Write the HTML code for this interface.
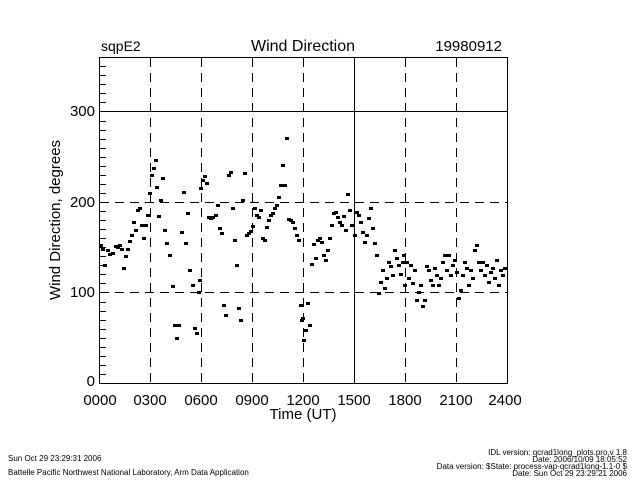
<!DOCTYPE html>
<html><head><meta charset="utf-8"><style>
html,body{margin:0;padding:0;background:#fff;}
svg{display:block;}
text{font-family:"Liberation Sans",sans-serif;fill:#000;}
</style></head><body>
<svg width="640" height="480" viewBox="0 0 640 480" xmlns="http://www.w3.org/2000/svg">
<rect width="640" height="480" fill="#fff"/>
<text x="101" y="51" font-size="14">sqpE2</text>
<text x="303" y="51" font-size="16" text-anchor="middle">Wind Direction</text>
<text x="502" y="51" font-size="15" text-anchor="end">19980912</text>
<g stroke="#000" stroke-width="1" fill="none">
<rect x="99.5" y="57.5" width="408" height="326"/>
<g stroke-dasharray="9,6">
<line x1="150.5" y1="58" x2="150.5" y2="383"/>
<line x1="201.5" y1="58" x2="201.5" y2="383"/>
<line x1="252.5" y1="58" x2="252.5" y2="383"/>
<line x1="303.5" y1="58" x2="303.5" y2="383"/>
<line x1="405.5" y1="58" x2="405.5" y2="383"/>
<line x1="456.5" y1="58" x2="456.5" y2="383"/>
<line x1="100" y1="292.5" x2="507" y2="292.5"/>
<line x1="100" y1="202.5" x2="507" y2="202.5"/>
</g>
<line x1="354.5" y1="58" x2="354.5" y2="383"/>
<line x1="100" y1="111.5" x2="507" y2="111.5"/>
<path d="M100 374.5h6M100 365.5h6M100 356.5h6M100 347.5h6M100 338.5h6M100 329.5h6M100 320.5h6M100 311.5h6M100 302.5h6M100 283.5h6M100 274.5h6M100 265.5h6M100 256.5h6M100 247.5h6M100 238.5h6M100 229.5h6M100 220.5h6M100 211.5h6M100 193.5h6M100 184.5h6M100 175.5h6M100 166.5h6M100 157.5h6M100 148.5h6M100 139.5h6M100 130.5h6M100 121.5h6M100 102.5h6M100 93.5h6M100 84.5h6M100 75.5h6M100 66.5h6"/>
</g>
<g font-size="15" text-anchor="end">
<text x="95" y="386">0</text>
<text x="95" y="297">100</text>
<text x="95" y="207">200</text>
<text x="95" y="116">300</text>
</g>
<g font-size="15" text-anchor="middle">
<text x="100" y="405">0000</text>
<text x="150" y="405">0300</text>
<text x="201" y="405">0600</text>
<text x="252" y="405">0900</text>
<text x="303" y="405">1200</text>
<text x="354" y="405">1500</text>
<text x="405" y="405">1800</text>
<text x="456" y="405">2100</text>
<text x="505" y="405">2400</text>
</g>
<text x="303" y="419" font-size="15" text-anchor="middle">Time (UT)</text>
<text transform="translate(60,220) rotate(-90)" font-size="15" text-anchor="middle">Wind Direction, degrees</text>
<g id="pts" fill="#000"></g>
<g font-size="8">
<text x="8" y="461">Sun Oct 29 23:29:31 2006</text>
<text x="8" y="475">Battelle Pacific Northwest National Laboratory, Arm Data Application</text>
<text x="627" y="455" text-anchor="end">IDL version: qcrad1long_plots.pro,v 1.8</text>
<text x="627" y="462" text-anchor="end">Date: 2006/10/09 18:05:52</text>
<text x="627" y="469" text-anchor="end">Data version: $State: process-vap-qcrad1long-1.1-0 $</text>
<text x="627" y="476" text-anchor="end">Date: Sun Oct 29 23:29:21 2006</text>
</g>
</svg>
<script>
var p=[[101,245],[103,249],[105,265],[108,250],[110,254],[113,253],[116,246],[118,247],[120,245],[122,249],[124,268],[126,256],[128,249],[130,241],[132,235],[134,222],[136,230],[138,210],[140,208],[142,225],[144,238],[146,225],[148,215],[150,193],
[152,175],[154,168],[156,160],[157,187],[159,216],[161,200],[163,178],[165,230],[167,243],[170,255],[173,286],[175,325],[177,338],[179,325],[182,232],[184,192],[186,243],[188,213],[190,270],[193,285],[195,328],[197,333],[199,292],[200,280],
[201,188],[203,180],[205,176],[207,183],[209,217],[211,218],[213,217],[216,215],[218,205],[220,228],[222,233],[224,305],[226,315],[229,175],[231,172],[233,208],[235,240],[237,265],[239,308],[241,320],[243,200],[245,173],[247,235],[249,233],[251,231],
[253,226],[255,208],[257,215],[259,217],[261,210],[263,238],[265,240],[267,227],[269,220],[271,215],[273,213],[275,208],[277,205],[279,197],[281,185],[283,165],[285,185],[287,138],[289,219],[291,220],[293,222],[295,228],[297,235],[299,240],[301,305],[302,320],
[303,318],[304,340],[306,330],[308,303],[310,325],[312,264],[314,244],[316,258],[318,240],[320,238],[322,242],[324,255],[326,260],[328,250],[330,238],[332,225],[334,213],[336,212],[338,217],[340,222],[342,225],[344,216],[346,230],[348,194],[350,210],[352,225],
[355,235],[357,212],[359,215],[361,222],[363,232],[365,242],[367,235],[369,218],[371,208],[373,228],[375,243],[377,255],[379,293],[381,282],[383,270],[385,288],[387,278],[389,262],[391,266],[393,275],[395,250],[397,258],[399,265],[401,274],[403,262],[404,255],
[405,285],[407,262],[409,278],[411,265],[413,283],[415,270],[417,300],[419,292],[421,285],[423,306],[425,300],[427,266],[429,270],[431,280],[433,285],[435,268],[437,275],[439,285],[441,278],[443,262],[445,255],[447,270],[449,255],[451,275],[453,265],[455,260],
[457,272],[459,298],[461,290],[463,275],[465,262],[467,268],[469,285],[471,270],[473,278],[475,250],[477,245],[479,262],[481,270],[483,262],[485,275],[487,265],[489,282],[491,272],[493,268],[495,278],[497,260],[499,285],[501,270],[503,275],[505,268]];
var g=document.getElementById('pts'),s='';
p.forEach(function(a){s+='<rect x="'+(a[0]-2)+'" y="'+(a[1]-1)+'" width="4" height="3"/>';});
g.innerHTML=s;
</script>
</body></html>
